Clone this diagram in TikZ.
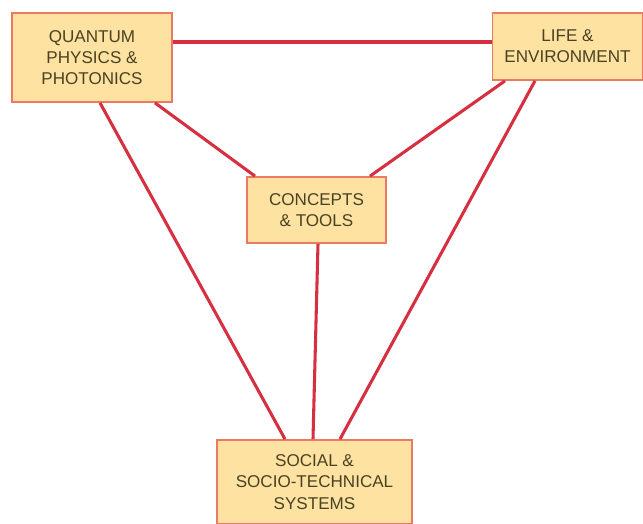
\documentclass[tikz,border=0pt]{standalone}
\usepackage{fontspec}
\setmainfont{Liberation Sans}
\usetikzlibrary{calc}
\definecolor{boxfill}{HTML}{FDE2A2}
\definecolor{boxline}{HTML}{EC7A62}
\definecolor{linkred}{HTML}{D63040}
\definecolor{textol}{HTML}{4A4222}
\begin{document}
\begin{tikzpicture}[x=0.75pt,y=-0.75pt,
  area/.style={draw=boxline,fill=boxfill,line width=1.3pt,inner sep=0pt,
    align=center,text=textol,font=\fontsize{12.8}{16}\selectfont},
  link/.style={draw=linkred,line width=2.3pt}]
  \useasboundingbox (0,0) rectangle (643,524);
  \clip (0,0) rectangle (643,524);
  \node[area,minimum width=160*0.75pt,minimum height=89*0.75pt] (qpp) at (92,57.5) {QUANTUM\\PHYSICS \&\\PHOTONICS};
  \node[area,minimum width=150*0.75pt,minimum height=67*0.75pt] (life) at (567.5,46.5) {LIFE \&\\ENVIRONMENT};
  \node[area,minimum width=139*0.75pt,minimum height=66*0.75pt] (tools) at (316.5,210) {CONCEPTS\\\& TOOLS};
  \node[area,minimum width=195*0.75pt,minimum height=84*0.75pt] (social) at (314.5,482) {SOCIAL \&\\SOCIO-TECHNICAL\\SYSTEMS};
  \draw[link] ($(qpp.east)+(0,-15.5)$) -- ($(life.west)+(0,-4.5)$);
  \draw[link] ($(qpp.south)+(63,0)$) -- ($(tools.north)+(-61.5,0)$);
  \draw[link] ($(qpp.south)+(8,0)$) -- ($(social.north)+(-29.5,0)$);
  \draw[link] ($(life.south)+(-62.5,0)$) -- ($(tools.north)+(53.5,0)$);
  \draw[link] ($(life.south)+(-32.5,0)$) -- ($(social.north)+(25.5,0)$);
  \draw[link] ($(tools.south)+(1.5,0)$) -- ($(social.north)+(-1.5,0)$);
\end{tikzpicture}
\end{document}
